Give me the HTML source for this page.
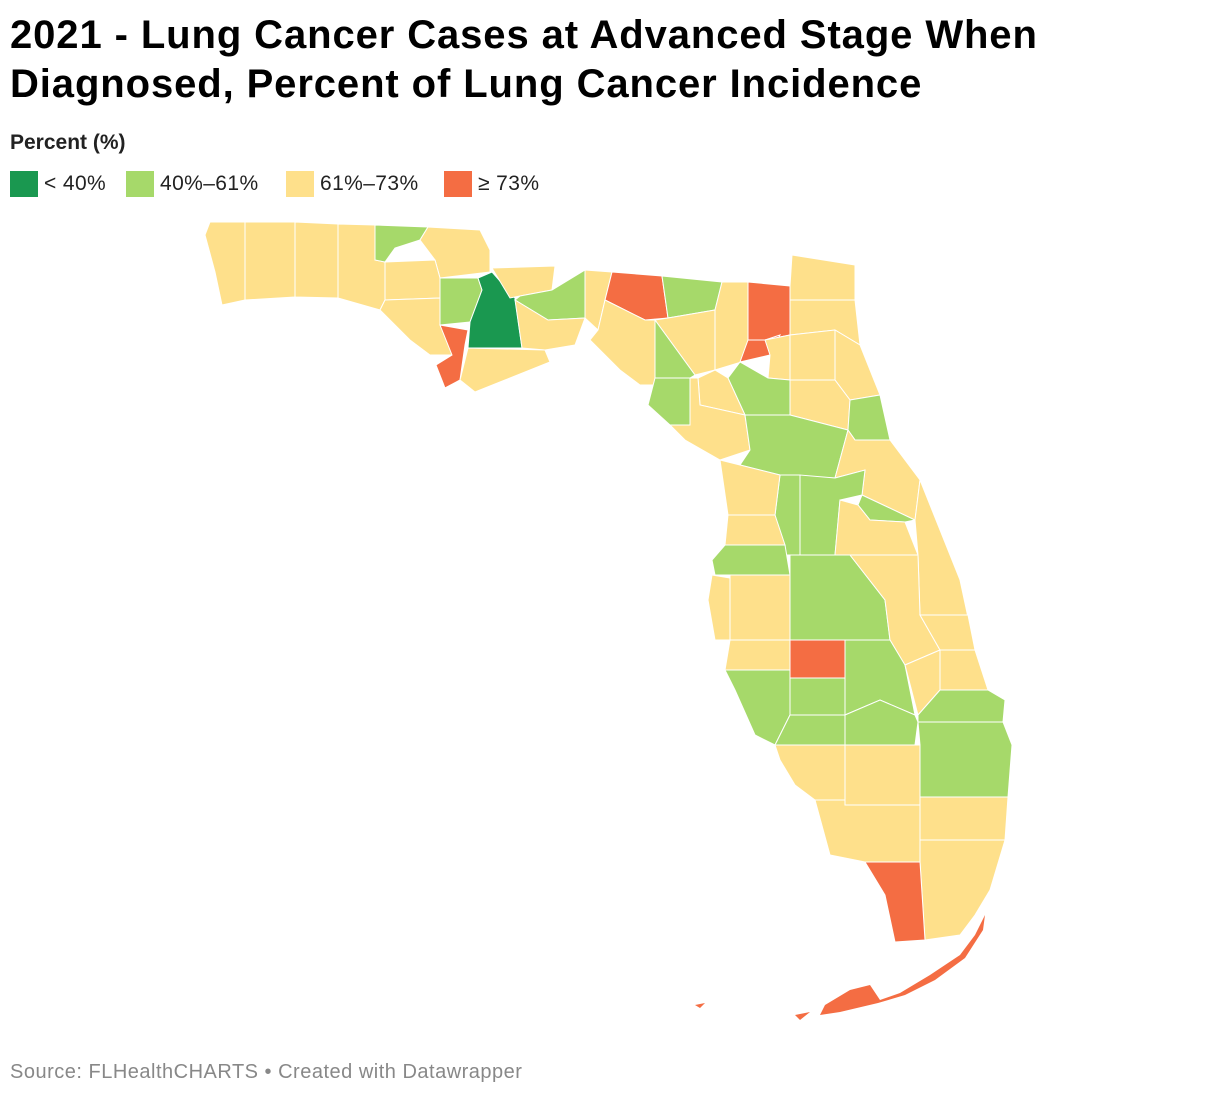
<!DOCTYPE html>
<html><head><meta charset="utf-8">
<style>
body{margin:0;background:#fff;width:1220px;height:1098px;overflow:hidden;font-family:"Liberation Sans",Arial,sans-serif;position:relative}
#title{position:absolute;left:10px;top:11px;font-size:40px;font-weight:bold;line-height:49px;color:#000;letter-spacing:0.9px;white-space:nowrap}
#ltitle{position:absolute;left:10px;top:131px;font-size:21px;font-weight:bold;color:#222}
#legend{position:absolute;left:10px;top:171px;display:flex;font-size:21px;color:#222;letter-spacing:0.4px}
.le{display:flex;align-items:center}
.sw{width:28px;height:26px;margin-right:6px}
#source{position:absolute;left:10px;top:1061px;font-size:20px;color:#888;letter-spacing:0.5px;white-space:nowrap}
svg{position:absolute;left:0;top:0}
</style></head><body>
<div id="title">2021 - Lung Cancer Cases at Advanced Stage When<br>Diagnosed, Percent of Lung Cancer Incidence</div>
<div id="ltitle">Percent (%)</div>
<div id="legend">
<div class="le" style="width:116px"><div class="sw" style="background:#1a9850"></div>&lt; 40%</div>
<div class="le" style="width:160px"><div class="sw" style="background:#a6d96a"></div>40%–61%</div>
<div class="le" style="width:158px"><div class="sw" style="background:#fee08b"></div>61%–73%</div>
<div class="le"><div class="sw" style="background:#f46d43"></div>≥ 73%</div>
</div>
<svg id="map" width="1220" height="1098"></svg>
<div id="source">Source: FLHealthCHARTS • Created with Datawrapper</div>
<script>
const counties=["Escambia","Santa Rosa","Okaloosa","Walton","Holmes","Jackson","Washington","Bay","Calhoun","Gulf","Liberty","Gadsden","Leon","Wakulla","Franklin","Jefferson","Madison","Hamilton","Suwannee","Taylor","Lafayette","Dixie","Columbia","Baker","Union","Nassau","Duval","Bradford","Clay","St. Johns","Putnam","Alachua","Gilchrist","Levy","Marion","Flagler","Volusia","Lake","Sumter","Citrus","Hernando","Pasco","Seminole","Orange","Brevard","Pinellas","Hillsborough","Polk","Osceola","Indian River","Manatee","Hardee","Highlands","Okeechobee","St. Lucie","Sarasota","DeSoto","Martin","Charlotte","Glades","Palm Beach","Lee","Hendry","Collier","Broward","Miami-Dade","Monroe"];
const values=[66,67,68,65,55,66,67,68,52,76,35,65,55,66,67,65,78,54,66,67,56,55,66,77,78,66,67,65,66,67,66,56,65,66,55,56,67,54,55,66,67,55,56,66,67,66,67,55,66,67,66,78,55,66,67,56,55,56,55,55,56,66,67,66,67,66,77];
const thresholds=[40,61,73];
const colors=["#1a9850","#a6d96a","#fee08b","#f46d43"];
// county geometry (map outline shapes)
const geo={
"Escambia":"210,222 245,222 245,300 222,305 215,272 205,235",
"Santa Rosa":"245,222 295,222 295,297 245,300",
"Okaloosa":"295,222 338,224 338,298 295,297",
"Walton":"338,224 375,225 375,260 385,262 385,300 380,310 338,298",
"Holmes":"375,225 428,227 420,240 395,248 385,262 375,260",
"Jackson":"428,227 480,230 490,250 490,272 440,278 435,260 420,240",
"Washington":"385,262 435,260 440,278 440,298 385,300",
"Bay":"380,310 385,300 440,298 440,325 455,355 430,355 410,340",
"Calhoun":"440,278 478,278 482,290 470,322 440,325",
"Gulf":"440,325 468,330 465,345 460,380 445,388 436,365 452,355",
"Liberty":"478,278 492,272 515,298 522,348 468,348 470,322 482,290",
"Gadsden":"492,268 555,266 552,290 520,296 510,298",
"Leon":"520,296 552,290 585,270 585,318 548,320 515,300",
"Wakulla":"515,300 548,320 585,318 575,345 545,350 522,348",
"Franklin":"468,348 545,350 550,362 500,382 475,392 460,380 465,360",
"Jefferson":"585,270 612,272 605,300 598,330 585,318",
"Madison":"612,272 662,276 668,318 645,320 605,300",
"Hamilton":"662,276 722,282 715,310 668,318",
"Suwannee":"668,318 715,310 715,370 695,375 655,320",
"Taylor":"605,300 645,320 655,320 655,385 640,385 620,370 590,340 598,330",
"Lafayette":"655,320 695,375 690,378 655,378",
"Dixie":"655,378 690,378 690,425 670,425 648,405",
"Columbia":"722,282 748,282 748,360 715,370 715,310",
"Baker":"748,282 790,286 790,335 765,340 748,340",
"Union":"748,340 765,340 780,335 770,355 740,362",
"Nassau":"790,286 792,255 855,265 855,300 790,300",
"Duval":"790,300 855,300 860,345 835,330 790,335",
"Bradford":"765,340 790,335 790,380 768,378 770,355",
"Clay":"790,335 835,330 835,380 790,380",
"St. Johns":"835,330 860,345 880,395 850,400 835,380",
"Putnam":"790,380 835,380 850,400 848,430 790,415",
"Alachua":"740,362 768,378 790,380 790,415 745,415 728,378",
"Gilchrist":"715,370 728,378 745,415 700,405 698,378",
"Levy":"690,378 698,378 700,405 745,415 750,450 720,460 685,440 670,425 690,425",
"Marion":"745,415 790,415 848,430 835,478 780,475 740,465 750,450",
"Flagler":"850,400 880,395 890,440 855,440 848,430",
"Volusia":"848,430 855,440 890,440 920,480 915,520 862,495 865,470 835,478",
"Lake":"835,478 865,470 862,495 840,500 835,555 800,555 800,475",
"Sumter":"780,475 800,475 800,555 785,555 775,515",
"Citrus":"720,460 740,465 780,475 775,515 728,515",
"Hernando":"728,515 775,515 785,545 725,545",
"Pasco":"725,545 785,545 790,575 715,575 712,560",
"Seminole":"862,495 915,520 905,522 870,520 858,505",
"Orange":"840,500 858,505 870,520 905,522 918,555 835,555",
"Brevard":"915,520 920,480 960,580 975,650 940,650 920,615 918,555",
"Pinellas":"712,575 730,578 730,640 715,640 708,600",
"Hillsborough":"730,575 790,575 790,640 730,640",
"Polk":"790,575 790,555 850,555 885,600 890,640 790,640",
"Osceola":"850,555 918,555 920,615 940,650 905,665 890,640 885,600",
"Indian River":"920,615 968,615 975,650 940,650",
"Manatee":"730,640 790,640 790,670 725,670",
"Hardee":"790,640 845,640 845,678 790,678",
"Highlands":"845,640 890,640 905,665 915,715 880,700 845,715",
"Okeechobee":"905,665 940,650 940,690 918,715",
"St. Lucie":"940,650 975,650 988,690 940,690",
"Sarasota":"725,670 790,670 790,715 775,745 755,735 735,690",
"DeSoto":"790,678 845,678 845,715 790,715",
"Martin":"940,690 988,690 1005,700 1003,722 918,722 918,715",
"Charlotte":"790,715 845,715 845,745 775,745",
"Glades":"845,715 880,700 915,715 918,722 915,745 845,745",
"Palm Beach":"918,722 1003,722 1012,745 1008,797 920,797 920,745",
"Lee":"775,745 845,745 845,800 815,800 795,785 780,760",
"Hendry":"845,745 920,745 920,805 845,805",
"Collier":"815,800 845,800 845,805 920,805 920,862 865,862 830,855",
"Broward":"920,797 1008,797 1005,840 920,840",
"Miami-Dade":"920,840 1005,840 990,890 975,915 960,935 925,940 920,862",
"Monroe":"865,862 920,862 925,940 895,942 885,895"
};
const svg=document.getElementById('map');
const NS='http://www.w3.org/2000/svg';
function colorFor(v){let i=0;while(i<thresholds.length&&v>=thresholds[i])i++;return colors[i];}
counties.forEach((c,i)=>{
  const p=document.createElementNS(NS,'polygon');
  p.setAttribute('points',geo[c]);
  p.setAttribute('fill',colorFor(values[i]));
  p.setAttribute('stroke','#fff');
  p.setAttribute('stroke-width','1');
  
  
  svg.appendChild(p);
});
// Monroe keys chain follows Monroe's value
const keys=document.createElementNS(NS,'path');
keys.setAttribute('d','M985,915 L975,935 L960,955 L930,975 L900,993 L880,1000 L870,985 L850,990 L825,1005 L820,1015 L840,1012 L878,1003 L905,995 L935,980 L965,958 L983,930 Z M795,1015 L810,1012 L800,1020 Z M695,1005 L705,1003 L700,1008 Z');
keys.setAttribute('fill',colorFor(values[counties.indexOf("Monroe")]));


svg.appendChild(keys);
</script>
</body></html>
